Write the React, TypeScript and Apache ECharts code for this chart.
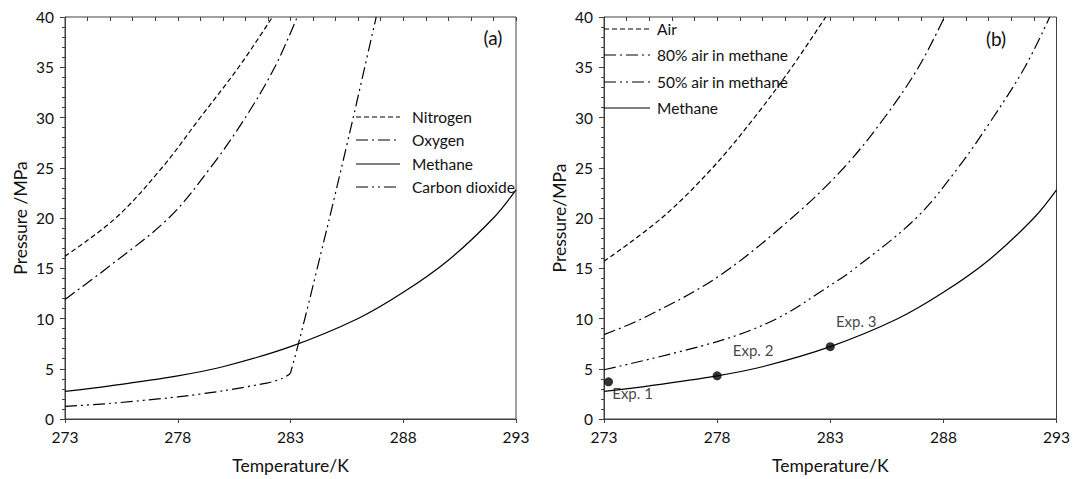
import React, { useEffect, useRef } from "react";
import * as echarts from "echarts";

// ---------- data (Temperature K, Pressure MPa) ----------
const xTicks = [273, 278, 283, 288, 293];
const nitrogen: number[][] = [[273, 16.2], [275.25, 20], [277.3, 25], [279.0, 30], [280.7, 35], [282.2, 40]];
const oxygen: number[][] = [[273, 11.9], [274.85, 15], [277.6, 20], [279.45, 25], [281.0, 30], [282.3, 35], [283.3, 40]];
const methane: number[][] = [[273, 2.75], [275, 3.3], [278, 4.3], [280, 5.2], [283, 7.2], [286, 10], [288, 12.6], [290, 15.8], [292, 20.0], [293, 22.8]];
const carbonDioxide: number[][] = [[273, 1.25], [275, 1.55], [278, 2.2], [280, 2.8], [282, 3.6], [282.6, 4.0], [283.0, 4.6], [284.6, 18.8], [285.7, 29.2], [286.8, 40]];

const air: number[][] = [[273, 15.7], [275.55, 20], [277.8, 25], [279.65, 30], [281.3, 35], [282.8, 40]];
const air80: number[][] = [[273, 8.4], [274.7, 10], [278, 14.1], [281.3, 20], [283.6, 25], [285.4, 30], [286.9, 35], [288.05, 40]];
const air50: number[][] = [[273, 4.9], [278, 7.7], [280.65, 10], [283, 13.3], [284.1, 15], [286.8, 20], [288.65, 25], [290.2, 30], [291.6, 35], [292.7, 40]];
const expPoints: number[][] = [[273.2, 3.7], [278, 4.3], [283, 7.2]];
const expLabels = ["Exp. 1", "Exp. 2", "Exp. 3"];

const legendA = ["Nitrogen", "Oxygen", "Methane", "Carbon dioxide"];
const legendB = ["Air", "80% air in methane", "50% air in methane", "Methane"];

// ---------- styles ----------
const FONT = "Lato, 'Open Sans', sans-serif";
const DASH = [5, 3];
const DASH_DOT = [12, 4, 2, 4];
const DASH_DOT_DOT = [12, 4, 2, 4, 2, 4];
const SOLID = "solid";
const AX = "#404040";
const TXT = "#111";

const dashA = [DASH, DASH_DOT, SOLID, DASH_DOT_DOT];
const dashB = [DASH, DASH_DOT, DASH_DOT_DOT, SOLID];

function lineSeries(name: string, data: number[][], type: any, axis: number, yAxis: number, smooth = 0.35) {
  return {
    name,
    type: "line",
    xAxisIndex: axis,
    yAxisIndex: yAxis,
    data,
    symbol: "none",
    showSymbol: false,
    smooth,
    clip: true,
    lineStyle: { color: "#000", width: 1.2, type },
  };
}

function xAxes(grid: number) {
  const base = {
    gridIndex: grid,
    type: "value",
    min: 273,
    max: 293,
    interval: 5,
    splitLine: { show: false },
  };
  return [
    {
      ...base,
      name: "Temperature/K",
      nameLocation: "middle",
      nameGap: 37,
      nameTextStyle: { fontFamily: FONT, fontSize: 17.5, color: TXT },
      axisLine: { show: true, lineStyle: { color: AX, width: 1 } },
      axisTick: { show: true, inside: false, length: 4, lineStyle: { color: AX } },
      axisLabel: { fontFamily: FONT, fontSize: 15.5, color: TXT, margin: 10, formatter: (v: number) => (xTicks.includes(v) ? String(v) : "") },
    },
    {
      ...base,
      axisLine: { show: false },
      axisLabel: { show: false },
      axisTick: { show: true, inside: true, length: 4, lineStyle: { color: AX } },
      minorTick: { show: true, splitNumber: 5, length: 4, lineStyle: { color: AX } },
    },
  ];
}

function yAxis(grid: number, name: string) {
  return {
    gridIndex: grid,
    type: "value",
    min: 0,
    max: 40,
    interval: 5,
    name,
    nameLocation: "middle",
    nameGap: 36,
    nameTextStyle: { fontFamily: FONT, fontSize: 17.5, color: TXT },
    splitLine: { show: false },
    axisLine: { show: true, lineStyle: { color: AX, width: 1 } },
    axisTick: { show: true, inside: false, length: 5, lineStyle: { color: AX } },
    minorTick: { show: true, splitNumber: 5, length: 3, lineStyle: { color: AX } },
    axisLabel: { fontFamily: FONT, fontSize: 15.5, color: TXT, margin: 11 },
  };
}

function legendGraphics(names: string[], dashes: any[], x1: number, x2: number, tx: number, ys: number[]) {
  const els: any[] = [];
  names.forEach((n, i) => {
    const d = dashes[i];
    els.push({
      type: "line",
      shape: { x1, y1: ys[i], x2, y2: ys[i] },
      style: { stroke: "#000", lineWidth: 1.2, lineDash: d === SOLID ? null : d },
      z: 10,
    });
    els.push({
      type: "text",
      x: tx,
      y: ys[i],
      style: { text: n, fontFamily: FONT, fontSize: 15.5, fill: TXT, align: "left", verticalAlign: "middle" },
      z: 10,
    });
  });
  return els;
}

const expOffsets = [[24, 11], [36, -26], [26, -26]];

export default function App() {
  const ref = useRef<HTMLDivElement>(null);
  useEffect(() => {
    if (!ref.current) return;
    const chart = echarts.init(ref.current, undefined, { renderer: "svg" });
    const option: any = {
      animation: false,
      backgroundColor: "#fff",
      grid: [
        { left: 65, top: 17, width: 451, height: 404, show: true, borderColor: AX, borderWidth: 1, containLabel: false },
        { left: 604, top: 17, width: 454, height: 404, show: true, borderColor: AX, borderWidth: 1, containLabel: false },
      ],
      xAxis: [...xAxes(0), ...xAxes(1)],
      yAxis: [yAxis(0, "Pressure /MPa"), yAxis(1, "Pressure/MPa")],
      series: [
        lineSeries(legendA[0], nitrogen, DASH, 0, 0),
        lineSeries(legendA[1], oxygen, DASH_DOT, 0, 0),
        lineSeries(legendA[2], methane, SOLID, 0, 0),
        lineSeries(legendA[3], carbonDioxide, DASH_DOT_DOT, 0, 0, 0.2),
        lineSeries(legendB[0], air, DASH, 2, 1),
        lineSeries(legendB[1], air80, DASH_DOT, 2, 1),
        lineSeries(legendB[2], air50, DASH_DOT_DOT, 2, 1),
        lineSeries(legendB[3], methane, SOLID, 2, 1),
        {
          name: "Experiments",
          type: "scatter",
          xAxisIndex: 2,
          yAxisIndex: 1,
          symbol: "circle",
          symbolSize: 9,
          itemStyle: { color: "#000" },
          z: 5,
          data: expPoints.map((p, i) => ({
            value: p,
            label: {
              show: true,
              formatter: expLabels[i],
              position: "inside",
              offset: expOffsets[i],
              fontFamily: FONT,
              fontSize: 15,
              color: TXT,
            },
          })),
        },
      ],
      graphic: [
        ...legendGraphics(legendA, dashA, 356, 400, 412, [117, 140, 164, 187]),
        ...legendGraphics(legendB, dashB, 604, 650, 657, [29, 55, 82, 108]),
        { type: "text", x: 493, y: 37, style: { text: "(a)", fontFamily: FONT, fontSize: 19, fill: TXT, align: "center", verticalAlign: "middle" } },
        { type: "text", x: 996, y: 38, style: { text: "(b)", fontFamily: FONT, fontSize: 19, fill: TXT, align: "center", verticalAlign: "middle" } },
      ],
    };
    chart.setOption(option);
    return () => chart.dispose();
  }, []);
  return <div ref={ref} style={{ position: "fixed", left: 0, top: 0, width: 1073, height: 479, background: "#fff" }} />;
}
